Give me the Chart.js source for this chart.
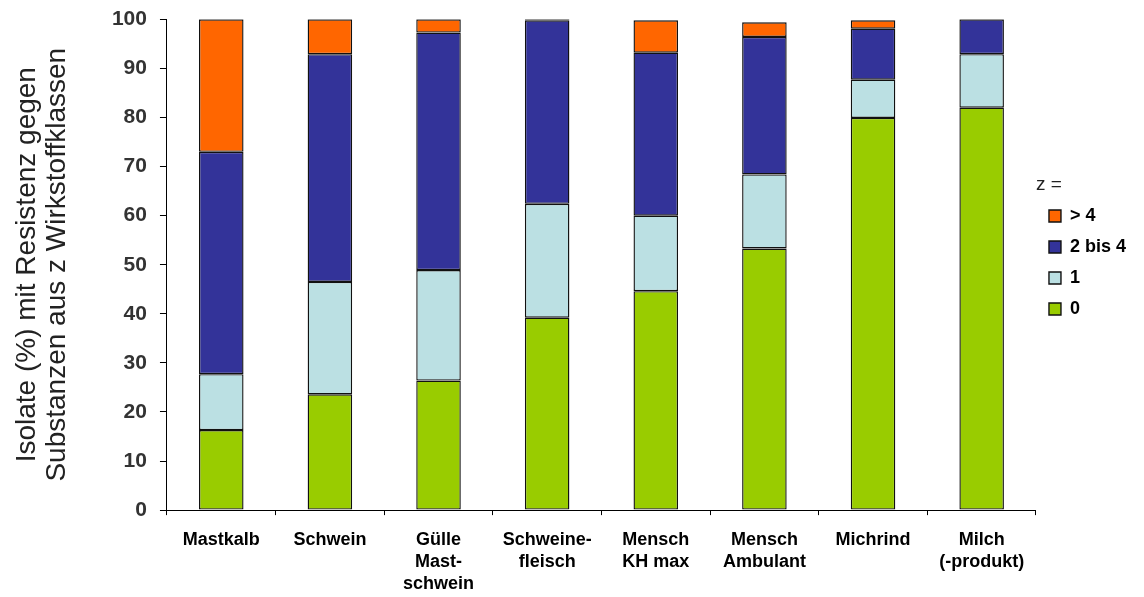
<!DOCTYPE html>
<html>
<head>
<meta charset="utf-8">
<script src="https://cdn.jsdelivr.net/npm/chart.js@4.4.1/dist/chart.umd.min.js"></script>
<style>
  html, body { margin: 0; padding: 0; background: #fff; }
  #wrap { width: 1144px; height: 597px; position: relative; }
</style>
</head>
<body>
<div id="wrap"><canvas id="resistChart"></canvas></div>
<script>
// categories (multi-line labels as arrays)
const categories = [
    "Mastkalb",
    "Schwein",
    ["Gülle", "Mast-", "schwein"],
    ["Schweine-", "fleisch"],
    ["Mensch", "KH max"],
    ["Mensch", "Ambulant"],
    "Michrind",
    ["Milch", "(-produkt)"]
];

// share of isolates (%) per number of resistant substance classes
const zero       = [16.3, 23.6, 26.4, 39.2, 44.6, 53.3, 79.9, 82.0];
const one        = [11.4, 22.9, 22.5, 23.2, 15.4, 15.1,  7.8, 10.9];
const twoToFour  = [45.3, 46.4, 48.4, 37.4, 33.2, 28.0, 10.4,  7.1];
const moreThan4  = [27.0,  7.1,  2.7,  0.2,  6.6,  3.0,  1.7,  0.0];

const yTicks = [0, 10, 20, 30, 40, 50, 60, 70, 80, 90, 100];

const FONT = "'Liberation Sans', Arial, Helvetica, sans-serif";
Chart.defaults.font.family = FONT;
Chart.defaults.color = "#222";

function segment(label, data, color) {
    return {
        label: label,
        data: data,
        backgroundColor: color,
        borderColor: "#111",
        borderWidth: 1.4,
        borderSkipped: false,
        categoryPercentage: 1.0,
        barPercentage: 0.41
    };
}

const ctx = document.getElementById("resistChart").getContext("2d");
const resistChart = new Chart(ctx, {
    type: "bar",
    data: {
        labels: categories,
        datasets: [
            segment("0", zero, "#99CC00"),
            segment("1", one, "#BBE0E3"),
            segment("2 bis 4", twoToFour, "#333399"),
            segment("> 4", moreThan4, "#FF6600")
        ]
    },
    options: {
        responsive: true,
        maintainAspectRatio: false,
        animation: false,
        layout: { padding: { left: 0, right: 8, top: 15, bottom: -12 } },
        plugins: {
            tooltip: { enabled: false },
            legend: {
                position: "right",
                align: "start",
                reverse: true,
                title: {
                    display: true,
                    text: "z =",
                    position: "start",
                    color: "#222",
                    font: { size: 19, weight: "normal", lineHeight: 1 },
                    padding: { top: 160, bottom: 0 }
                },
                labels: {
                    color: "#000",
                    boxWidth: 12,
                    boxHeight: 12,
                    padding: 13,
                    font: { size: 18, weight: "bold" }
                }
            }
        },
        scales: {
            x: {
                stacked: true,
                grid: {
                    display: true,
                    drawOnChartArea: false,
                    drawTicks: true,
                    tickLength: 5,
                    color: "#000"
                },
                border: { display: true, color: "#000", width: 1 },
                ticks: {
                    color: "#000",
                    padding: 14,
                    maxRotation: 0,
                    autoSkip: false,
                    font: { size: 18, weight: "bold", lineHeight: 1.22 }
                }
            },
            y: {
                stacked: true,
                min: 0,
                max: 100,
                afterBuildTicks: (axis) => {
                    axis.ticks = yTicks.map(v => ({ value: v }));
                },
                grid: {
                    display: true,
                    drawOnChartArea: false,
                    drawTicks: true,
                    tickLength: 7,
                    color: "#000"
                },
                border: { display: true, color: "#000", width: 1 },
                ticks: {
                    color: "#333",
                    padding: 13,
                    font: { size: 21, weight: "bold", lineHeight: 0.6 }
                },
                title: {
                    display: true,
                    text: ["Isolate (%) mit Resistenz gegen", "Substanzen aus z Wirkstoffklassen"],
                    color: "#222",
                    font: { size: 28, weight: "normal", lineHeight: 1.07 },
                    padding: { top: 12, bottom: 27 }
                }
            }
        }
    }
});
</script>
</body>
</html>
